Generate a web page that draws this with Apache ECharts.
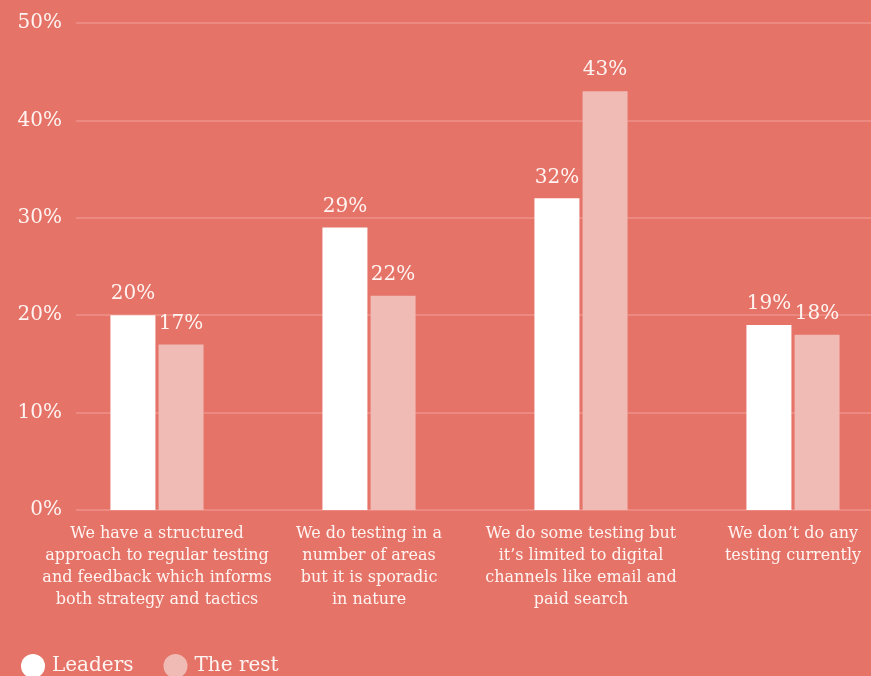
<!DOCTYPE html>
<html>
<head>
<meta charset="utf-8">
<script src="https://cdn.jsdelivr.net/npm/echarts@6/dist/echarts.min.js"></script>
<style>
  html, body { margin: 0; padding: 0; background: #E57368; overflow: hidden; }
  #chart { width: 899px; height: 676px; }
</style>
</head>
<body>
<div id="chart"></div>
<script>
// Survey answers about testing practice
const categories = [
  'We have a structured\napproach to regular testing\nand feedback which informs\nboth strategy and tactics',
  'We do testing in a\nnumber of areas\nbut it is sporadic\nin nature',
  'We do some testing but\nit\u2019s limited to digital\nchannels like email and\npaid search',
  'We don\u2019t do any\ntesting currently'
];
const leaders = [20, 29, 32, 19];
const theRest = [17, 22, 43, 18];
const yTicks = { min: 0, max: 50, interval: 10 };

const FONT = 'DejaVu Serif';
const TEXT = '#FFF4F1';

const chart = echarts.init(document.getElementById('chart'));
chart.setOption({
  backgroundColor: '#E57368',
  animation: false,
  textStyle: { fontFamily: FONT, color: TEXT },
  grid: [
    // gridlines and value ticks
    { left: 76, right: 28, top: 23, bottom: 166 },
    // bars and category labels
    { left: 51, right: 0, top: 23, bottom: 166 }
  ],
  legend: {
    left: 16,
    top: 649,
    itemWidth: 24,
    itemHeight: 24,
    itemGap: 30,
    icon: 'circle',
    textStyle: { fontFamily: FONT, fontSize: 20, color: TEXT, padding: [0, 0, 0, 2] },
    data: ['Leaders', 'The rest']
  },
  xAxis: [
    { type: 'category', gridIndex: 0, data: categories, show: false },
    {
      type: 'category', gridIndex: 1, data: categories,
      axisLine: { show: false }, axisTick: { show: false },
      axisLabel: {
        interval: 0, margin: 13, color: TEXT,
        fontFamily: FONT, fontSize: 16, lineHeight: 22
      }
    }
  ],
  yAxis: [
    {
      type: 'value', gridIndex: 0, min: yTicks.min, max: yTicks.max, interval: yTicks.interval,
      axisLine: { show: false }, axisTick: { show: false },
      axisLabel: { formatter: '{value}%', margin: 14, color: TEXT, fontFamily: FONT, fontSize: 20 },
      splitLine: { lineStyle: { color: '#EC8A81', width: 2 } }
    },
    {
      type: 'value', gridIndex: 1, min: yTicks.min, max: yTicks.max, interval: yTicks.interval,
      show: false
    }
  ],
  series: [
    {
      name: 'Leaders', type: 'bar', xAxisIndex: 1, yAxisIndex: 1,
      data: leaders, barWidth: 45, barGap: '7%',
      itemStyle: { color: '#FFFFFF' },
      label: { show: true, position: 'top', distance: 11, formatter: '{c}%',
        color: TEXT, fontFamily: FONT, fontSize: 20 }
    },
    {
      name: 'The rest', type: 'bar', xAxisIndex: 1, yAxisIndex: 1,
      data: theRest, barWidth: 45, barGap: '7%',
      itemStyle: { color: '#F0BAB5' },
      label: { show: true, position: 'top', distance: 11, formatter: '{c}%',
        color: TEXT, fontFamily: FONT, fontSize: 20 }
    }
  ]
});
</script>
</body>
</html>
